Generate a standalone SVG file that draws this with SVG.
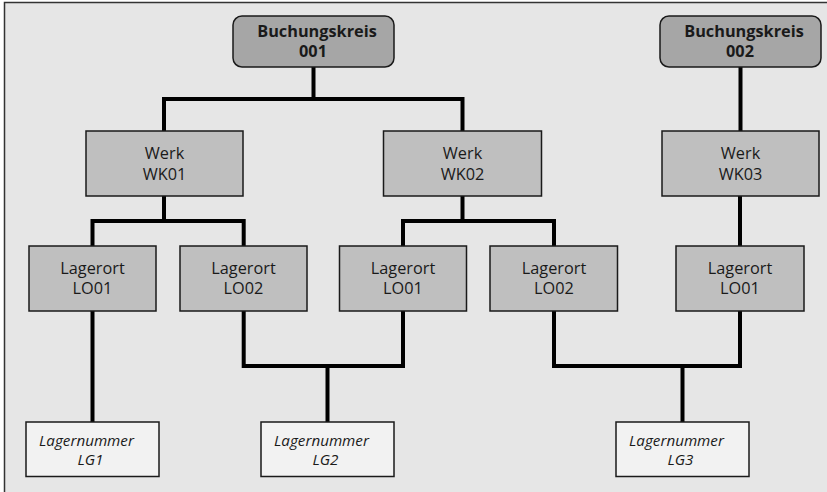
<svg xmlns="http://www.w3.org/2000/svg" width="827" height="492" viewBox="0 0 827 492">
<defs>
<style>
.bk{fill:#a6a6a6;stroke:#1a1a1a;stroke-width:1.5}
.wk{fill:#bfbfbf;stroke:#1a1a1a;stroke-width:1.5}
.lg{fill:#f2f2f2;stroke:#1a1a1a;stroke-width:1.5}
.t{font-family:"Open Sans","Noto Sans",sans-serif;font-size:16.3px;fill:#1a1a1a;text-anchor:middle}
.b{font-weight:bold;font-size:16.3px}
.i{font-style:italic;font-size:15.2px}
.c{fill:none;stroke:#000;stroke-width:4;stroke-linejoin:miter}
</style>
</defs>
<rect x="4.5" y="2.5" width="830" height="500" fill="#e6e6e6" stroke="#333" stroke-width="1.5"/>
<g id="connectors">
<path class="c" d="M313.5 67V99M164 131V99H462.5V131"/>
<path class="c" d="M740.5 67V131"/>
<path class="c" d="M164 196V221M92.5 246V221H243.7V246"/>
<path class="c" d="M462.5 196V221M403 246V221H554V246"/>
<path class="c" d="M740 196V246"/>
<path class="c" d="M92.5 311V422"/>
<path class="c" d="M243.7 311V366H403V311M327.5 366V422"/>
<path class="c" d="M554 311V366H740V311M682.5 366V422"/>
</g>
<g id="bk001"><rect class="bk" x="233" y="16" width="161" height="51" rx="9"/><text class="t b" x="317" y="37">Buchungskreis</text><text class="t b" x="313" y="57">001</text></g>
<g id="bk002"><rect class="bk" x="660" y="16" width="161" height="51" rx="9"/><text class="t b" x="744" y="37">Buchungskreis</text><text class="t b" x="740" y="57">002</text></g>
<g id="wk01"><rect class="wk" x="86" y="131" width="157" height="65"/><text class="t" x="164.5" y="159">Werk</text><text class="t" x="164.5" y="180">WK01</text></g>
<g id="wk02"><rect class="wk" x="383.5" y="131" width="158" height="65"/><text class="t" x="462.5" y="159">Werk</text><text class="t" x="462.5" y="180">WK02</text></g>
<g id="wk03"><rect class="wk" x="662" y="131" width="157" height="65"/><text class="t" x="740.5" y="159">Werk</text><text class="t" x="740.5" y="180">WK03</text></g>
<g id="lo01a"><rect class="wk" x="29" y="246" width="127" height="65"/><text class="t" x="92.5" y="274">Lagerort</text><text class="t" x="92.5" y="294">LO01</text></g>
<g id="lo02a"><rect class="wk" x="180" y="246" width="127" height="65"/><text class="t" x="243.5" y="274">Lagerort</text><text class="t" x="243.5" y="294">LO02</text></g>
<g id="lo01b"><rect class="wk" x="339.5" y="246" width="127" height="65"/><text class="t" x="403" y="274">Lagerort</text><text class="t" x="403" y="294">LO01</text></g>
<g id="lo02b"><rect class="wk" x="490" y="246" width="127.5" height="65"/><text class="t" x="554" y="274">Lagerort</text><text class="t" x="554" y="294">LO02</text></g>
<g id="lo01c"><rect class="wk" x="676" y="246" width="128" height="65"/><text class="t" x="740" y="274">Lagerort</text><text class="t" x="740" y="294">LO01</text></g>
<g id="lg1"><rect class="lg" x="26" y="422" width="133" height="54.5"/><text class="t i" x="86.5" y="446">Lagernummer</text><text class="t i" x="90.5" y="465">LG1</text></g>
<g id="lg2"><rect class="lg" x="261" y="422" width="133" height="54.5"/><text class="t i" x="321.5" y="446">Lagernummer</text><text class="t i" x="325.5" y="465">LG2</text></g>
<g id="lg3"><rect class="lg" x="616" y="422" width="133" height="54.5"/><text class="t i" x="676.5" y="446">Lagernummer</text><text class="t i" x="680.5" y="465">LG3</text></g>
</svg>
